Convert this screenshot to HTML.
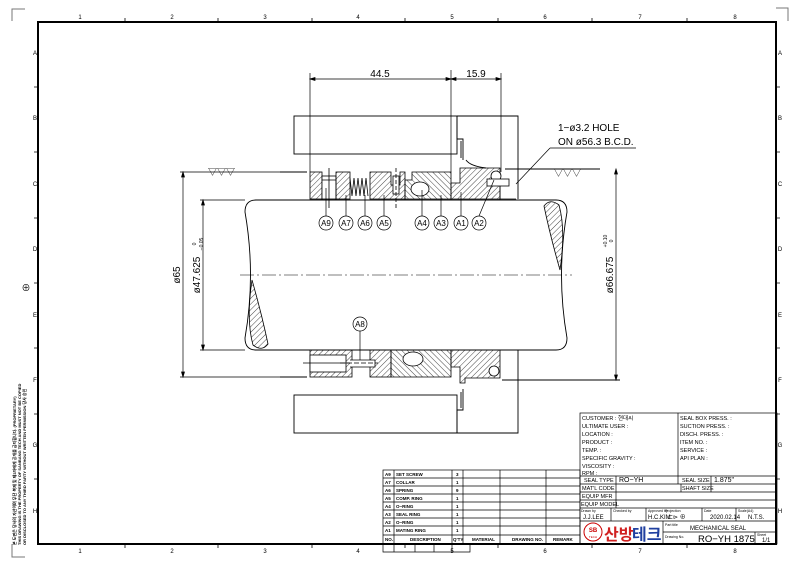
<!DOCTYPE html>
<html><head><style>html,body{margin:0;padding:0;background:#fff}svg{display:block}</style></head><body>
<svg width="800" height="565" viewBox="0 0 800 565" xmlns="http://www.w3.org/2000/svg" font-family="Liberation Sans, Noto Sans CJK KR, sans-serif">
<defs>
<pattern id="h" width="4" height="4" patternUnits="userSpaceOnUse" patternTransform="rotate(45)"><line x1="0" y1="0" x2="0" y2="4" stroke="#333" stroke-width="0.9"/></pattern>
<pattern id="h2" width="4" height="4" patternUnits="userSpaceOnUse" patternTransform="rotate(-45)"><line x1="0" y1="0" x2="0" y2="4" stroke="#333" stroke-width="0.9"/></pattern>
</defs>
<rect width="800" height="565" fill="#fff"/>
<path d="M12 21V9H25 M776 8H788V21 M12 544V557H25" stroke="#777" fill="none"/>
<rect x="38" y="22" width="738" height="522" fill="none" stroke="#000" stroke-width="2"/>
<g font-size="6" fill="#000" text-anchor="middle">
<text x="80" y="19">1</text><text x="172" y="19">2</text><text x="265" y="19">3</text><text x="358" y="19">4</text><text x="452" y="19">5</text><text x="545" y="19">6</text><text x="640" y="19">7</text><text x="735" y="19">8</text>
<text x="80" y="553">1</text><text x="172" y="553">2</text><text x="265" y="553">3</text><text x="358" y="553">4</text><text x="452" y="553">5</text><text x="545" y="553">6</text><text x="640" y="553">7</text><text x="735" y="553">8</text>
<text x="35" y="55">A</text><text x="35" y="120">B</text><text x="35" y="186">C</text><text x="35" y="251">D</text><text x="35" y="317">E</text><text x="35" y="382">F</text><text x="35" y="447">G</text><text x="35" y="513">H</text>
<text x="780" y="55">A</text><text x="780" y="120">B</text><text x="780" y="186">C</text><text x="780" y="251">D</text><text x="780" y="317">E</text><text x="780" y="382">F</text><text x="780" y="447">G</text><text x="780" y="513">H</text>
</g>
<g stroke="#000" stroke-width="0.8">
<path d="M125 18V22M218 18V22M312 18V22M405 18V22M498 18V22M592 18V22M687 18V22"/>
<path d="M125 544V548M218 544V548M312 544V548M405 544V548M498 544V548M592 544V548M687 544V548"/>
<path d="M34 87H38M34 152H38M34 218H38M34 283H38M34 348H38M34 414H38M34 479H38"/>
<path d="M776 87H780M776 152H780M776 218H780M776 283H780M776 348H780M776 414H780M776 479H780"/>
</g>
<text x="26" y="291" font-size="9" text-anchor="middle">⊕</text>
<g font-size="4" transform="rotate(-90)" font-weight="bold">
<text x="-545" y="16">본 도면은 당사의 자산이며 무단 복제 및 제3자에게 공개를 금지합니다. (PROPRIETARY)</text>
<text x="-545" y="21">THIS DRAWING IS THE PROPERTY OF SANBANG TECH AND MUST NOT BE COPIED</text>
<text x="-545" y="26">OR DISCLOSED TO ANY THIRD PARTY WITHOUT WRITTEN PERMISSION 당사 승인</text>
</g>

<g stroke="#000" stroke-width="0.7" fill="none">
<path d="M310 73V172 M451 70V172 M501 73V172"/>
<path d="M310 79H451 M451 79H501"/>
<path d="M310 79l5 -1.5v3z M451 79l-5 -1.5v3z M451 79l5 -1.5v3z M501 79l-5 -1.5v3z" fill="#000"/>
</g>
<text x="380" y="77" font-size="10" text-anchor="middle">44.5</text>
<text x="476" y="77" font-size="10" text-anchor="middle">15.9</text>

<g stroke="#000" stroke-width="0.9" fill="none">
<rect x="294" y="116" width="163" height="38"/>
<path d="M457 116H518V199 M457 116V139H463V160 M461 141V158"/>
<path d="M466 160Q470 166 486 168"/>
<rect x="294" y="395" width="163" height="38"/>
<path d="M457 433H518V350 M457 433V410H463V389 M461 392V408"/>
<path d="M280 172H307 M505 169H600 M280 377H307 M502 380H620"/>
</g>

<path d="M256 200H556Q567 200 567 212Q556 275 567 338Q567 350 556 350H256Q245 350 245 338Q256 275 245 212Q245 200 256 200Z" fill="#fff" stroke="#000" stroke-width="0.9"/>
<path d="M252 280Q246 320 253 345Q262 352 268 344Q262 315 252 280Z" fill="url(#h)" stroke="#000" stroke-width="0.8"/>
<path d="M560 270Q566 230 559 205Q550 198 544 206Q550 235 560 270Z" fill="url(#h)" stroke="#000" stroke-width="0.8"/>
<path d="M240 275H572" stroke="#000" stroke-width="0.6" stroke-dasharray="14 3 2 3"/>

<g stroke="#000" stroke-width="0.8">
<rect x="310" y="172" width="12" height="27" fill="url(#h)"/>
<rect x="322" y="176" width="14" height="23" fill="#fff"/>
<rect x="336" y="172" width="14" height="27" fill="url(#h)"/>
<path d="M329 168V208 M322 180H336" fill="none"/>
<path d="M350 178l2 18 2-18 2 18 2-18 2 18 2-18 2 18 2-18 2 18" fill="none"/>
<path d="M370 172H391V185H400V172H405V199H370Z" fill="url(#h)"/>
<rect x="393" y="176" width="6" height="18" fill="#fff"/>
<path d="M396 168V210" fill="none" stroke-dasharray="4 2"/>
<path d="M405 180H412V172H451V199H405Z" fill="url(#h2)"/>
<ellipse cx="420" cy="189" rx="9" ry="7" fill="#fff"/>
<path d="M451 199V183H460V168H500V199Z" fill="url(#h)"/>
<circle cx="496" cy="176" r="5" fill="#fff"/>
<rect x="487" y="179" width="22" height="7" fill="#fff"/>
<path d="M500 186V199H516" fill="none"/>
</g>
<g stroke="#000" stroke-width="0.8">
<rect x="310" y="350" width="42" height="27" fill="url(#h)"/>
<rect x="310" y="355" width="36" height="17" fill="#fff"/>
<path d="M303 363H350" fill="none"/>
<rect x="370" y="350" width="21" height="27" fill="url(#h)"/>
<path d="M350 360H375V367H350" fill="#fff"/>
<path d="M340 363H378" stroke-dasharray="5 2" fill="none"/>
<path d="M391 350H451V377H391Z" fill="url(#h2)"/>
<ellipse cx="413" cy="359" rx="10" ry="7" fill="#fff"/>
<path d="M451 350H500V378H465V383H460V367H451Z" fill="url(#h)"/>
<circle cx="494" cy="371" r="5" fill="#fff"/>
</g>

<g stroke="#000" stroke-width="0.7" fill="none">
<path d="M326 216V188 M346 216V195 M365 216V195 M384 216V195 M422 216V190 M441 216V195 M461 216V192 M479 216L494 180 M360 331V360"/>
<path d="M550 148H636 M550 148L516 184"/>
<circle cx="326" cy="223" r="7"/><circle cx="346" cy="223" r="7"/><circle cx="365" cy="223" r="7"/><circle cx="384" cy="223" r="7"/>
<circle cx="422" cy="223" r="7"/><circle cx="441" cy="223" r="7"/><circle cx="461" cy="223" r="7"/><circle cx="479" cy="223" r="7"/>
<circle cx="360" cy="324" r="7"/>
</g>
<g font-size="8" text-anchor="middle">
<text x="326" y="226">A9</text><text x="346" y="226">A7</text><text x="365" y="226">A6</text><text x="384" y="226">A5</text>
<text x="422" y="226">A4</text><text x="441" y="226">A3</text><text x="461" y="226">A1</text><text x="479" y="226">A2</text>
<text x="360" y="327">A8</text>
</g>
<text x="558" y="131" font-size="10">1−ø3.2 HOLE</text>
<text x="558" y="145" font-size="10">ON ø56.3 B.C.D.</text>
<text x="208" y="175" font-size="9">▽▽▽</text>
<text x="554" y="176" font-size="9">▽▽▽</text>

<g stroke="#000" stroke-width="0.7" fill="none">
<path d="M180 172H300 M183 172V377 M180 377H307 M200 200H245 M203 200V350 M200 350H245 M616 169V380"/>
<path d="M183 172l-1.5 5h3z M183 377l-1.5-5h3z M203 200l-1.5 5h3z M203 350l-1.5-5h3z M616 169l-1.5 5h3z M616 380l-1.5-5h3z" fill="#000"/>
</g>
<text transform="translate(180 275) rotate(-90)" font-size="10" text-anchor="middle">ø65</text>
<text transform="translate(200 275) rotate(-90)" font-size="10" text-anchor="middle">ø47.625</text>
<text transform="translate(196 244) rotate(-90)" font-size="5" text-anchor="middle">0</text>
<text transform="translate(203 244) rotate(-90)" font-size="5" text-anchor="middle">−0.05</text>
<text transform="translate(613 275) rotate(-90)" font-size="10" text-anchor="middle">ø66.675</text>
<text transform="translate(607 241) rotate(-90)" font-size="5" text-anchor="middle">+0.10</text>
<text transform="translate(613 241) rotate(-90)" font-size="5" text-anchor="middle">0</text>

<g stroke="#000" stroke-width="0.7" fill="none">
<rect x="383" y="470" width="197" height="74"/>
<path d="M383 478H580M383 486H580M383 494H580M383 502H580M383 510H580M383 518H580M383 526H580M383 535H580"/>
<path d="M394 470V544M452 470V544M463 470V544M500 470V544M546 470V544"/>
<path d="M383 544V552H470V544 M394 544V552M415 544V552M434 544V552M452 544V552"/>
</g>
<g font-size="4.5" font-weight="bold">
<text x="385" y="476">A9</text><text x="396" y="476">SET SCREW</text><text x="456" y="476">3</text>
<text x="385" y="484">A7</text><text x="396" y="484">COLLAR</text><text x="456" y="484">1</text>
<text x="385" y="492">A6</text><text x="396" y="492">SPRING</text><text x="456" y="492">9</text>
<text x="385" y="500">A5</text><text x="396" y="500">COMP. RING</text><text x="456" y="500">1</text>
<text x="385" y="508">A4</text><text x="396" y="508">O−RING</text><text x="456" y="508">1</text>
<text x="385" y="516">A3</text><text x="396" y="516">SEAL RING</text><text x="456" y="516">1</text>
<text x="385" y="524">A2</text><text x="396" y="524">O−RING</text><text x="456" y="524">1</text>
<text x="385" y="532">A1</text><text x="396" y="532">MATING RING</text><text x="456" y="532">1</text>
<text x="385" y="541">NO.</text><text x="410" y="541">DESCRIPTION</text><text x="453" y="541">Q'TY</text><text x="472" y="541">MATERIAL</text><text x="512" y="541">DRAWING NO.</text><text x="553" y="541">REMARK</text>
</g>
<path d="M380 433H457" stroke="#000" stroke-width="0.9"/>

<g stroke="#000" stroke-width="0.7" fill="none">
<rect x="580" y="413" width="197" height="131"/>
<path d="M678 413V484 M580 476H777 M580 484H777 M580 492H777 M580 500H777 M580 508H777 M580 521H777"/>
<path d="M616 476V508 M711 476V492 M681 484V492 M611 508V521 M646 508V521 M702 508V521 M736 508V521 M663 521V544 M663 532H777 M755 532V544"/>
</g>
<g font-size="5.5">
<text x="582" y="420">CUSTOMER : 현대씨</text><text x="582" y="428">ULTIMATE USER :</text><text x="582" y="436">LOCATION :</text><text x="582" y="444">PRODUCT :</text><text x="582" y="452">TEMP. :</text><text x="582" y="460">SPECIFIC GRAVITY :</text><text x="582" y="468">VISCOSITY :</text><text x="582" y="475">RPM :</text>
<text x="680" y="420">SEAL BOX PRESS. :</text><text x="680" y="428">SUCTION PRESS. :</text><text x="680" y="436">DISCH. PRESS. :</text><text x="680" y="444">ITEM NO. :</text><text x="680" y="452">SERVICE :</text><text x="680" y="460">API PLAN :</text>
<text x="584" y="482">SEAL TYPE</text><text x="619" y="482" font-size="7">RO−YH</text>
<text x="682" y="482">SEAL SIZE</text><text x="714" y="482" font-size="7">1.875"</text>
<text x="582" y="490">MAT'L CODE</text><text x="682" y="490">SHAFT SIZE</text>
<text x="582" y="498">EQUIP MFR</text><text x="581" y="506">EQUIP MODEL</text>
</g>
<g font-size="3.5"><text x="581" y="512">Drawn by</text><text x="613" y="512">Checked by</text><text x="648" y="512">Approved by</text><text x="665" y="512">Projection</text><text x="704" y="512">Date</text><text x="738" y="512">Scale(A4)</text>
<text x="665" y="526">Part title</text><text x="665" y="538">Drawing No.</text><text x="757" y="536">Sheet</text></g>
<g font-size="6"><text x="583" y="519">J.J.LEE</text><text x="648" y="519">H.C.KIM</text><text x="668" y="519">⊏⊳ ⊕</text><text x="710" y="519">2020.02.14</text><text x="748" y="519">N.T.S.</text>
<text x="690" y="530">MECHANICAL SEAL</text><text x="762" y="542">1/1</text></g>
<text x="698" y="542" font-size="9.5">RO−YH 1875</text>
<circle cx="593" cy="532" r="9" fill="none" stroke="#c00" stroke-width="1"/>
<text x="593" y="532" font-size="6" fill="#c00" text-anchor="middle" font-weight="bold">SB</text>
<text x="593" y="538" font-size="3" fill="#c00" text-anchor="middle">TECH</text>
<text x="604" y="540" font-size="16" font-weight="bold" fill="#d02020">산방</text><text x="632" y="540" font-size="16" font-weight="bold" fill="#2040a0">테크</text>
</svg>
</body></html>
